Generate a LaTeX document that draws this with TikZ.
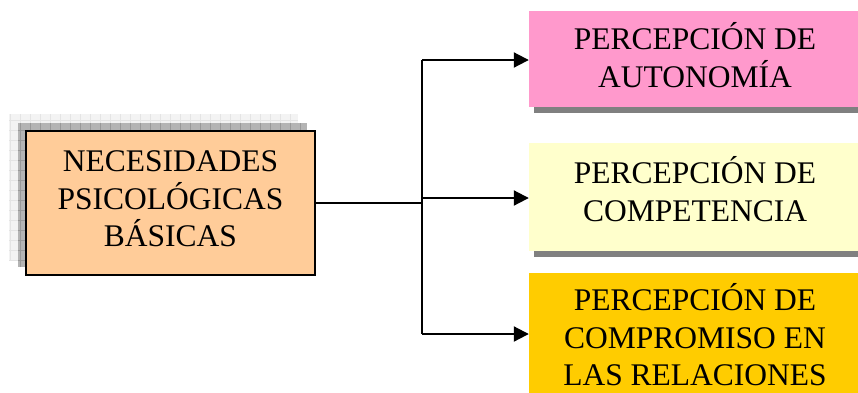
\documentclass[tikz,border=0pt]{standalone}
\usepackage{fontspec}
\setmainfont{Liberation Serif}
\usetikzlibrary{arrows.meta,calc}
\definecolor{peach}{HTML}{FFCC99}
\definecolor{pinkbox}{HTML}{FF99CC}
\definecolor{paleyellow}{HTML}{FFFFCC}
\definecolor{goldbox}{HTML}{FFCC00}
\definecolor{shadowgray}{HTML}{808080}
\definecolor{gridlight}{HTML}{F3F3F3}
\definecolor{gridlightline}{HTML}{E4E4E4}
\definecolor{griddark}{HTML}{B4B4B4}
\definecolor{griddarkline}{HTML}{999999}
\tikzset{
  txt/.style={font=\fontsize{31.5}{37.5}\selectfont, align=center, text=black, inner sep=0pt},
  leftbox/.style={draw=black, line width=2.5pt, fill=peach, minimum width=289pt, minimum height=144pt, inner sep=0pt},
  rightbox/.style={minimum width=329pt, inner sep=0pt, draw=none},
  conn/.style={line width=2pt, black},
  arr/.style={conn, -{Triangle[length=15pt,width=15pt]}},
}
\begin{document}
\begin{tikzpicture}[x=1pt,y=-1pt]
\useasboundingbox (0,0) rectangle (858,392);
% layered grid shadows behind the left box
\fill[gridlight] (9,114) rectangle (298,260);
\draw[gridlightline, line width=0.6pt, step=10pt] (9,114) grid (298,260);
\fill[griddark] (18,123) rectangle (307,267);
\draw[griddarkline, line width=0.6pt, step=10pt] (18,123) grid (307,267);
% drop shadows of the right boxes
\fill[shadowgray] (534,16) rectangle (870,113);
\fill[shadowgray] (534,148) rectangle (870,257);
% boxes
\node[leftbox] (needs) at (170.5,203) {};
\node[rightbox, fill=pinkbox, minimum height=96pt] (auto) at (693.5,59) {};
\node[rightbox, fill=paleyellow, minimum height=108pt] (comp) at (693.5,197) {};
\node[rightbox, fill=goldbox, minimum height=140pt] (rel) at (693.5,343) {};
% texts
\node[txt] (needsT) at (170.5,199) {NECESIDADES\\PSICOLÓGICAS\\BÁSICAS};
\node[txt] (autoT) at (695,55) {PERCEPCIÓN DE\\AUTONOMÍA};
\node[txt] (compT) at (695,189) {PERCEPCIÓN DE\\COMPETENCIA};
\node[txt] (relT) at (695,335) {PERCEPCIÓN DE\\COMPROMISO EN\\LAS RELACIONES};
% connectors
\coordinate (jmid) at (422,203);
\coordinate (jtop) at (422,60);
\coordinate (jcomp) at (422,198);
\coordinate (jbot) at (422,334);
\draw[conn] (needs.east |- jmid) -- (jmid);
\draw[conn] (jtop) -- (jbot);
\draw[arr] (jtop) -- (auto.west |- jtop);
\draw[arr] (jcomp) -- (comp.west |- jcomp);
\draw[arr] (jbot) -- (rel.west |- jbot);
\end{tikzpicture}
\end{document}
